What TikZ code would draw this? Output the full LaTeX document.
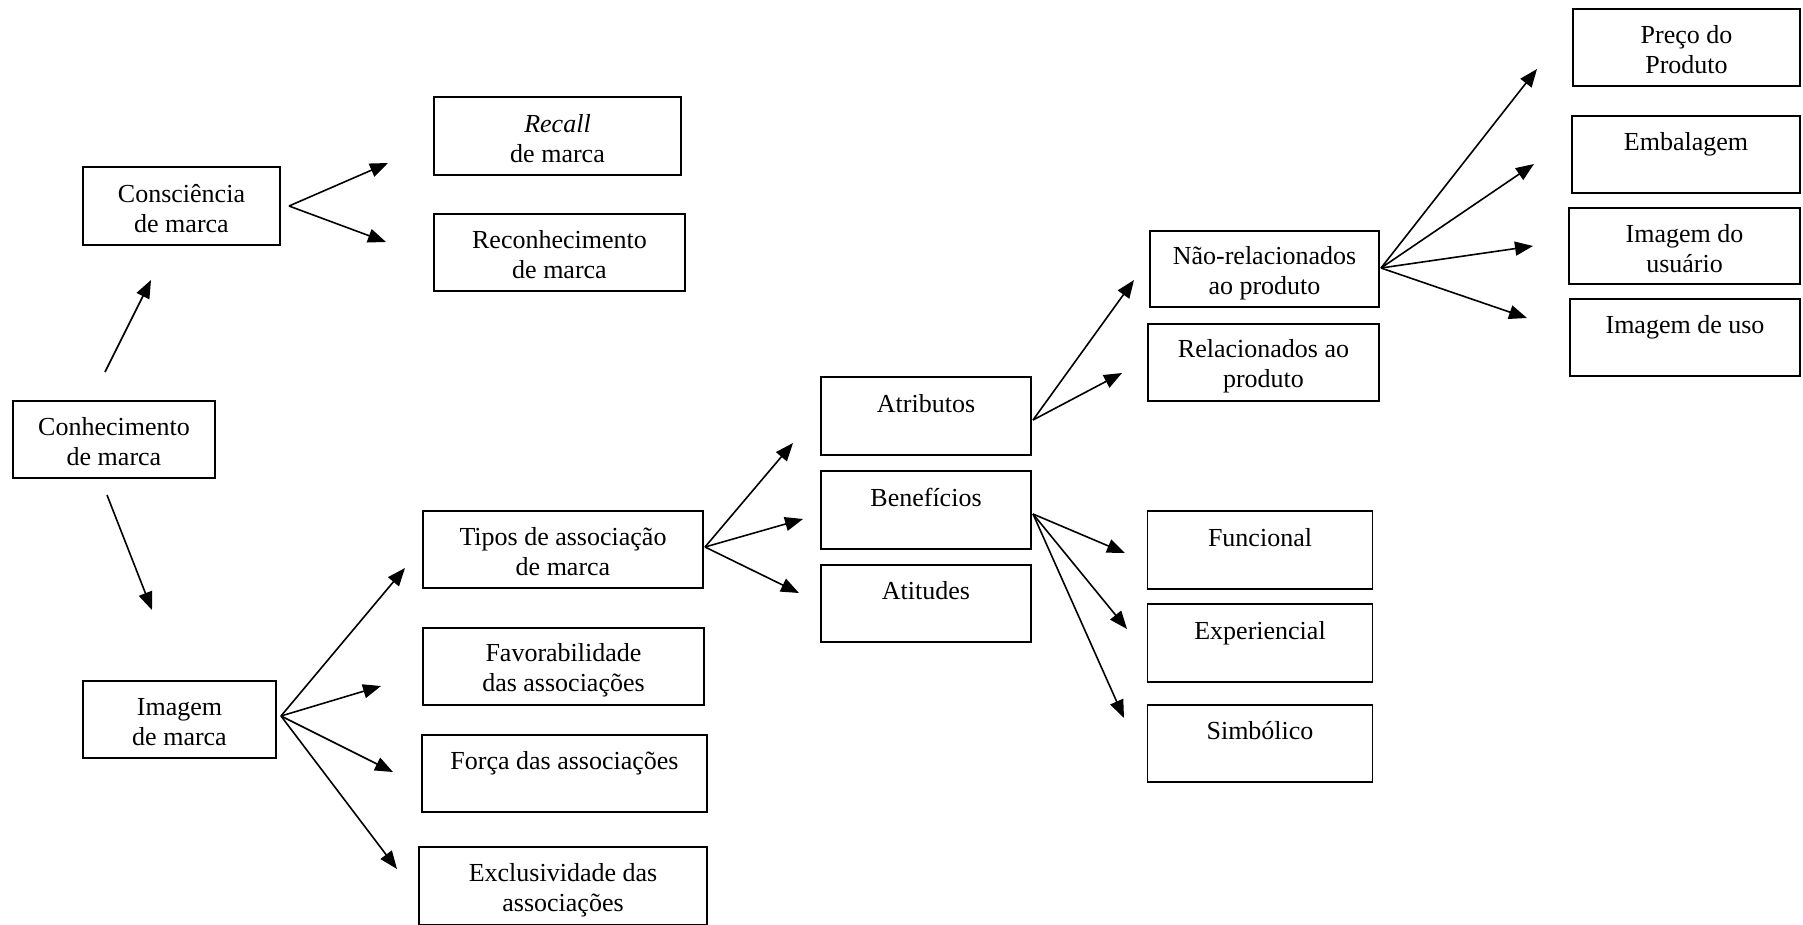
\documentclass[tikz,border=0pt]{standalone}
\usepackage{fontspec}
\setmainfont{Liberation Serif}
\usetikzlibrary{arrows.meta}
\newcommand\mystrut{\rule[-4pt]{0pt}{30pt}}
\newcommand\boxfont{\fontsize{26}{30}\selectfont\lineskiplimit=-50pt\relax\lineskip=0pt\relax}
\newcommand\twol[2]{#1\mystrut\\#2\mystrut}
\begin{document}
\begin{tikzpicture}[x=1pt,y=-1pt,
  box/.style={draw, line width=1.8pt, align=center, inner sep=0pt,
    font=\boxfont},
  arr/.style={line width=1.6pt, -{Triangle[length=18pt,width=14pt]}}]
\useasboundingbox (0,0) rectangle (1803,924);
\fill[white] (0,0) rectangle (1803,924);

% boxes
\node[box, minimum width=202pt, minimum height=77pt] (con) at (114,439.5) {\twol{Conhecimento}{de marca}};
\node[box, minimum width=197pt, minimum height=78pt] (consc) at (181.5,206) {\twol{Consciência}{de marca}};
\node[box, minimum width=247pt, minimum height=78pt] (recall) at (557.5,136) {\twol{\textit{Recall}}{de marca}};
\node[box, minimum width=251pt, minimum height=77pt] (recon) at (559.5,252.5) {\twol{Reconhecimento}{de marca}};
\node[box, minimum width=193pt, minimum height=77pt] (imagem) at (179.5,719.5) {\twol{Imagem}{de marca}};
\node[box, minimum width=280pt, minimum height=77pt] (tipos) at (563,549.5) {\twol{Tipos de associação}{de marca}};
\node[box, minimum width=281pt, minimum height=77pt] (fav) at (563.5,666.5) {\twol{Favorabilidade}{das associações}};
\node[box, minimum width=285pt, minimum height=77pt] (forca) at (564.5,773.5) {\twol{Força das associações}{}};
\node[box, minimum width=288pt, minimum height=78pt] (excl) at (563,886) {\twol{Exclusividade das}{associações}};
\node[box, minimum width=210pt, minimum height=78pt] (atrib) at (926,416) {\twol{Atributos}{}};
\node[box, minimum width=210pt, minimum height=78pt] (benef) at (926,510) {\twol{Benefícios}{}};
\node[box, minimum width=210pt, minimum height=77pt] (atit) at (926,603.5) {\twol{Atitudes}{}};
\node[box, minimum width=229pt, minimum height=76pt] (naorel) at (1264.5,269) {\twol{Não-relacionados}{ao produto}};
\node[box, minimum width=231pt, minimum height=77pt] (rel) at (1263.5,362.5) {\twol{Relacionados ao}{produto}};
\node[box, minimum width=225pt, minimum height=78pt] (func) at (1260,550) {\twol{Funcional}{}};
\node[box, minimum width=225pt, minimum height=78pt] (exper) at (1260,643) {\twol{Experiencial}{}};
\node[box, minimum width=225pt, minimum height=77pt] (simb) at (1260,743.5) {\twol{Simbólico}{}};
\node[box, minimum width=227pt, minimum height=77pt] (preco) at (1686.5,47.5) {\twol{Preço do}{Produto}};
\node[box, minimum width=228pt, minimum height=77pt] (emb) at (1686,154.5) {\twol{Embalagem}{}};
\node[box, minimum width=231pt, minimum height=76pt] (imgus) at (1684.5,246) {\twol{Imagem do}{usuário}};
\node[box, minimum width=230pt, minimum height=77pt] (imguso) at (1685,337.5) {\twol{Imagem de uso}{}};

% arrow origins
\coordinate (con-up) at (105,372);
\coordinate (con-dn) at (107,495);
\coordinate (consc-o) at (289,206);
\coordinate (imagem-o) at (281,716);
\coordinate (tipos-o) at (705,547);
\coordinate (atrib-o) at (1033,420);
\coordinate (benef-o) at (1033,514);
\coordinate (naorel-o) at (1381,268);

% arrow tips
\coordinate (consc-in) at (151,280);
\coordinate (imagem-in) at (152,610);
\coordinate (recall-in) at (388,163);
\coordinate (recon-in) at (386,242);
\coordinate (tipos-in) at (405,568);
\coordinate (fav-in) at (381,686);
\coordinate (forca-in) at (393,772);
\coordinate (excl-in) at (397,869);
\coordinate (atrib-in) at (793,443);
\coordinate (benef-in) at (803,519);
\coordinate (atit-in) at (799,593);
\coordinate (naorel-in) at (1134,280);
\coordinate (rel-in) at (1122,373);
\coordinate (func-in) at (1125,553);
\coordinate (exper-in) at (1127,629);
\coordinate (simb-in) at (1124,718);
\coordinate (preco-in) at (1537,69);
\coordinate (emb-in) at (1534,164);
\coordinate (imgus-in) at (1533,246);
\coordinate (imguso-in) at (1527,318);

% connectors
\draw[arr] (con-up) -- (consc-in);
\draw[arr] (con-dn) -- (imagem-in);
\draw[arr] (consc-o) -- (recall-in);
\draw[arr] (consc-o) -- (recon-in);
\draw[arr] (imagem-o) -- (tipos-in);
\draw[arr] (imagem-o) -- (fav-in);
\draw[arr] (imagem-o) -- (forca-in);
\draw[arr] (imagem-o) -- (excl-in);
\draw[arr] (tipos-o) -- (atrib-in);
\draw[arr] (tipos-o) -- (benef-in);
\draw[arr] (tipos-o) -- (atit-in);
\draw[arr] (atrib-o) -- (naorel-in);
\draw[arr] (atrib-o) -- (rel-in);
\draw[arr] (benef-o) -- (func-in);
\draw[arr] (benef-o) -- (exper-in);
\draw[arr] (benef-o) -- (simb-in);
\draw[arr] (naorel-o) -- (preco-in);
\draw[arr] (naorel-o) -- (emb-in);
\draw[arr] (naorel-o) -- (imgus-in);
\draw[arr] (naorel-o) -- (imguso-in);
\end{tikzpicture}
\end{document}
